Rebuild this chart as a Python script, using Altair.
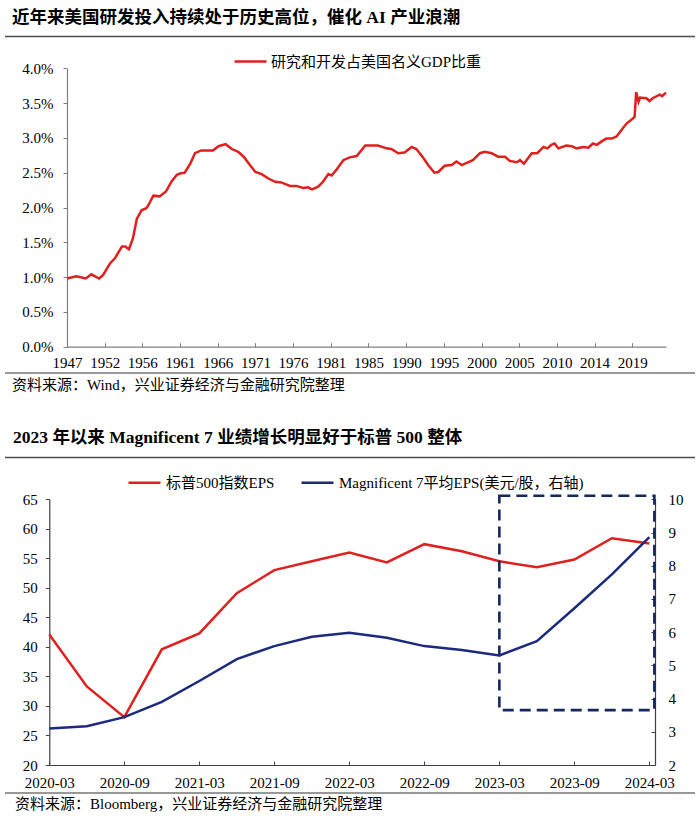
import json
import altair as alt
import pandas as pd

# ---------------- texts ----------------
TITLE_TOP = "近年来美国研发投入持续处于历史高位，催化 AI 产业浪潮"
TITLE_BOTTOM = "2023 年以来 Magnificent 7 业绩增长明显好于标普 500 整体"
SOURCE_TOP = "资料来源：Wind，兴业证券经济与金融研究院整理"
SOURCE_BOTTOM = "资料来源：Bloomberg，兴业证券经济与金融研究院整理"
SERIES_TOP = "研究和开发占美国名义GDP比重"
SERIES_SP = "标普500指数EPS"
SERIES_MAG = "Magnificent 7平均EPS(美元/股，右轴)"

FONT = "'Liberation Serif', 'Noto Sans CJK SC', serif"

# ---------------- top panel data (R&D share of US nominal GDP, %) ----------------
rd_year = [1947.0, 1948.2, 1949.4, 1950.1, 1951.1, 1951.6, 1952.5, 1953.1, 1954.0, 1954.4,
           1954.9, 1955.4, 1955.9, 1956.5, 1957.1, 1957.4, 1958.0, 1958.8, 1959.6, 1960.3,
           1961.0, 1961.4, 1962.0, 1962.7, 1963.3, 1964.1, 1964.8, 1965.6, 1966.3, 1967.2,
           1968.0, 1968.8, 1969.5, 1970.3, 1971.0, 1971.8, 1972.6, 1973.5, 1974.3, 1975.4,
           1976.2, 1977.1, 1977.7, 1978.2, 1979.0, 1979.6, 1980.3, 1980.7, 1981.3, 1982.2,
           1983.0, 1983.9, 1985.0, 1985.8, 1986.6, 1987.7, 1988.3, 1989.2, 1990.0, 1990.9,
           1991.5, 1992.4, 1993.0, 1993.8, 1994.3, 1995.1, 1996.0, 1996.6, 1997.3, 1997.9,
           1998.7, 1999.6, 2000.2, 2001.1, 2001.9, 2002.8, 2003.4, 2004.3, 2004.7, 2005.2,
           2006.2, 2006.9, 2007.7, 2008.2, 2008.7, 2009.1, 2009.6, 2010.6, 2011.3, 2011.9,
           2012.8, 2013.4, 2014.0, 2014.5, 2015.1, 2015.7, 2016.4, 2017.0, 2017.6, 2018.3,
           2018.9, 2019.3, 2019.5, 2019.8, 2020.0, 2020.8, 2021.2, 2021.6, 2022.5, 2022.8,
           2023.3]
rd_share = [0.98, 1.01, 0.98, 1.04, 0.98, 1.03, 1.20, 1.27, 1.44, 1.44,
            1.40, 1.56, 1.84, 1.96, 1.99, 2.04, 2.17, 2.16, 2.23, 2.37,
            2.47, 2.49, 2.50, 2.63, 2.78, 2.82, 2.82, 2.82, 2.88, 2.91,
            2.84, 2.80, 2.73, 2.61, 2.51, 2.48, 2.42, 2.37, 2.36, 2.31,
            2.31, 2.28, 2.29, 2.26, 2.30, 2.37, 2.48, 2.46, 2.54, 2.68,
            2.72, 2.74, 2.89, 2.89, 2.89, 2.85, 2.84, 2.78, 2.79, 2.87,
            2.84, 2.71, 2.61, 2.50, 2.51, 2.60, 2.61, 2.66, 2.61, 2.64,
            2.68, 2.78, 2.80, 2.78, 2.73, 2.73, 2.67, 2.65, 2.68, 2.63,
            2.78, 2.78, 2.87, 2.85, 2.90, 2.92, 2.85, 2.89, 2.88, 2.85,
            2.87, 2.86, 2.92, 2.90, 2.95, 2.99, 2.99, 3.02, 3.11, 3.21,
            3.26, 3.30, 3.66, 3.52, 3.58, 3.57, 3.53, 3.57, 3.62, 3.60,
            3.65]
top_x_labels = ["1947", "1952", "1956", "1961", "1966", "1971", "1976", "1981",
                "1985", "1990", "1995", "2000", "2005", "2010", "2014", "2019"]
top_y_ticks = [0.0, 0.5, 1.0, 1.5, 2.0, 2.5, 3.0, 3.5, 4.0]

# ---------------- bottom panel data ----------------
quarters = ["2020-03", "2020-06", "2020-09", "2020-12", "2021-03", "2021-06", "2021-09",
            "2021-12", "2022-03", "2022-06", "2022-09", "2022-12", "2023-03", "2023-06",
            "2023-09", "2023-12", "2024-03"]
sp500_eps = [42.1, 33.3, 28.1, 39.6, 42.3, 49.1, 53.0, 54.5, 56.0, 54.3, 57.4, 56.2,
             54.5, 53.5, 54.8, 58.4, 57.5]
mag7_eps = [3.10, 3.17, 3.44, 3.90, 4.53, 5.19, 5.58, 5.86, 5.98, 5.83, 5.58, 5.46,
            5.30, 5.73, 6.72, 7.74, 8.86]
bottom_x_labels = ["2020-03", "2020-09", "2021-03", "2021-09", "2022-03", "2022-09",
                   "2023-03", "2023-09", "2024-03"]
left_y_ticks = [20, 25, 30, 35, 40, 45, 50, 55, 60, 65]
right_y_ticks = [2, 3, 4, 5, 6, 7, 8, 9, 10]
box_month = [36, 48.4]      # highlight box: from 2023-03 to right edge (months after 2020-03)
box_eps = [29.3, 65.6]      # highlight box in left-axis units

# ---------------- styles / layout ----------------
W, H = 700, 816
RED = "#E0201E"
NAVY = "#1B2A7E"
BOXC = "#14285C"
TOP_XR = [67, 666]
TOP_YR = [346.7, 68.3]
BOT_XR = [49.3, 655]
BOT_YR = [765, 499.3]


def month_index(q):
    y, m = q.split("-")
    return (int(y) - 2020) * 12 + int(m) - 3


top_x_step = 4.8
top_x_values = [1947 + top_x_step * i for i in range(len(top_x_labels))]
bottom_x_values = [month_index(q) for q in bottom_x_labels]

axis_common = dict(title=None, grid=False, labelFont=FONT, labelFontSize=15,
                   labelColor="black", labelFlush=False, labelOverlap=False)

# ---------------- top panel ----------------
df_top = pd.DataFrame({"year": rd_year, "share": rd_share, "series": SERIES_TOP})
top_line = alt.Chart(df_top).mark_line(strokeWidth=2.5).encode(
    x=alt.X("year:Q",
            scale=alt.Scale(domain=[1947, 2023.3], range=TOP_XR, nice=False, zero=False),
            axis=alt.Axis(orient="bottom", offset=TOP_YR[0] - H, values=top_x_values,
                          labelExpr=json.dumps(top_x_labels, ensure_ascii=False)
                          + "[round((datum.value - 1947) / " + str(top_x_step) + ")]",
                          tickSize=alt.ExprRef(expr="-4"), labelPadding=13,
                          domainColor="#808080", tickColor="#808080", domainWidth=1.2,
                          **axis_common)),
    y=alt.Y("share:Q",
            scale=alt.Scale(domain=[0, 4], range=TOP_YR, nice=False, zero=False),
            axis=alt.Axis(orient="left", offset=-TOP_XR[0], values=top_y_ticks,
                          labelExpr="format(datum.value, '.1f') + '%'",
                          tickSize=4, labelPadding=10,
                          domainColor="#808080", tickColor="#808080", domainWidth=1.2,
                          **axis_common)),
    color=alt.Color("series:N",
                    scale=alt.Scale(domain=[SERIES_TOP], range=[RED]),
                    legend=alt.Legend(orient="none", legendX=233, legendY=44, title=None,
                                      symbolType="stroke", symbolSize=1024,
                                      symbolStrokeWidth=2.5, labelFont=FONT,
                                      labelFontSize=15, labelColor="black",
                                      labelOffset=3, labelLimit=600, padding=0)),
)

# ---------------- bottom panel ----------------
df_bot = pd.DataFrame({
    "month": [month_index(q) for q in quarters],
    "quarter": quarters,
    "sp": sp500_eps,
    "mag": mag7_eps,
    "sp_series": SERIES_SP,
    "mag_series": SERIES_MAG,
})
df_box = pd.DataFrame({"month": [box_month[0]], "m2": [box_month[1]],
                       "sp": [box_eps[0]], "e2": [box_eps[1]]})

xb_scale = alt.Scale(domain=[0, 48.45], range=BOT_XR, nice=False, zero=False)
yl_scale = alt.Scale(domain=[20, 65], range=BOT_YR, nice=False, zero=False)
yr_scale = alt.Scale(domain=[2, 10], range=BOT_YR, nice=False, zero=False)
xb_axis = alt.Axis(orient="bottom", offset=BOT_YR[0] - H, values=bottom_x_values,
                   labelExpr=json.dumps(bottom_x_labels) + "[round(datum.value / 6)]",
                   tickSize=alt.ExprRef(expr="-4"), labelPadding=14.5,
                   domainColor="#404040", tickColor="#404040", domainWidth=1.2,
                   **axis_common)
yl_axis = alt.Axis(orient="left", offset=-BOT_XR[0], values=left_y_ticks,
                   tickSize=4, labelPadding=8,
                   domainColor="#404040", tickColor="#404040", domainWidth=1.2,
                   **axis_common)
yr_axis = alt.Axis(orient="right", offset=BOT_XR[1] - W, values=right_y_ticks,
                   tickSize=alt.ExprRef(expr="-4"), labelPadding=17,
                   domainColor="#404040", tickColor="#404040", domainWidth=1.2,
                   **axis_common)
color_b = alt.Scale(domain=[SERIES_SP, SERIES_MAG], range=[RED, NAVY])
legend_b = alt.Legend(orient="none", legendX=127, legendY=465, title=None,
                      direction="horizontal", symbolType="stroke", symbolSize=1024,
                      symbolStrokeWidth=2.5, labelFont=FONT, labelFontSize=15,
                      labelColor="black", labelOffset=4, columnPadding=21,
                      labelLimit=600, padding=0)

sp_line = alt.Chart(df_bot).mark_line(strokeWidth=2.5).encode(
    x=alt.X("month:Q", scale=xb_scale, axis=xb_axis),
    y=alt.Y("sp:Q", scale=yl_scale, axis=yl_axis),
    color=alt.Color("sp_series:N", scale=color_b, legend=legend_b),
)

box = alt.Chart(df_box).mark_rect(filled=False, stroke=BOXC, strokeWidth=2.6,
                                  strokeDash=[11, 6]).encode(
    x=alt.X("month:Q", scale=xb_scale, axis=xb_axis),
    x2="m2:Q",
    y=alt.Y("sp:Q", scale=yl_scale, axis=yl_axis),
    y2="e2:Q",
)

mag_line = alt.Chart(df_bot).mark_line(strokeWidth=2.5).encode(
    x=alt.X("month:Q", scale=xb_scale, axis=xb_axis),
    y=alt.Y("mag:Q", scale=yr_scale, axis=yr_axis),
    color=alt.Color("mag_series:N", scale=color_b, legend=legend_b),
)

bottom = alt.layer(alt.layer(sp_line, box), mag_line).resolve_scale(y="independent")


# ---------------- decorations ----------------
def text_layer(txt, x, y, size, weight="normal"):
    return alt.Chart(pd.DataFrame({"t": [txt]})).mark_text(
        align="left", baseline="middle", font=FONT, fontSize=size,
        fontWeight=weight, color="black").encode(
        x=alt.value(x), y=alt.value(y), text="t:N")


def hrule(y, width, color):
    return alt.Chart(pd.DataFrame({"r": [0]})).mark_rule(
        color=color, strokeWidth=width).encode(
        x=alt.value(5), x2=alt.value(695), y=alt.value(y))


chart = alt.layer(
    top_line,
    bottom,
    hrule(36.5, 1.5, "#4d4d4d"),
    hrule(373, 1.2, "#333333"),
    hrule(457.5, 1.5, "#4d4d4d"),
    hrule(793, 1.2, "#333333"),
    text_layer(TITLE_TOP, 12, 18, 17.5, "bold"),
    text_layer(TITLE_BOTTOM, 13, 438, 17.5, "bold"),
    text_layer(SOURCE_TOP, 12, 385, 15),
    text_layer(SOURCE_BOTTOM, 15, 804, 15),
).resolve_scale(
    x="independent", y="independent", color="independent"
).properties(
    width=W, height=H, padding=0,
    autosize=alt.AutoSizeParams(type="none"),
).configure_view(stroke=None)

chart.save("out.html", embed_options={"renderer": "svg", "actions": False})
